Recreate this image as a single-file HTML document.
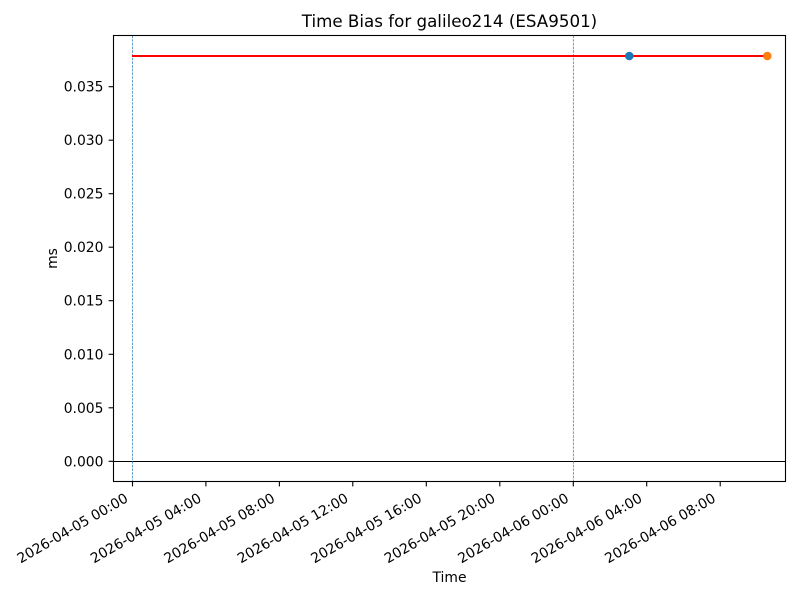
<!DOCTYPE html>
<html>
<head>
<meta charset="utf-8">
<style>
html,body{margin:0;padding:0;background:#fff;}
svg{display:block;}
text{font-family:"DejaVu Sans","Liberation Sans",sans-serif;fill:#000;}
</style>
</head>
<body>
<svg width="800" height="600" viewBox="0 0 800 600" xmlns="http://www.w3.org/2000/svg">
<rect x="0" y="0" width="800" height="600" fill="#fff"/>
<!-- zero line -->
<line x1="113.5" y1="461.5" x2="785.5" y2="461.5" stroke="#000" stroke-width="1"/>
<!-- vertical dashed lines -->
<line x1="132.4" y1="35.5" x2="132.4" y2="481.5" stroke="#1f77b4" stroke-width="0.7" stroke-dasharray="2.6,1.1"/>
<line x1="573.3" y1="35.5" x2="573.3" y2="481.5" stroke="#1f77b4" stroke-width="0.7" stroke-dasharray="2.6,1.1"/>
<!-- red line -->
<line x1="132" y1="56" x2="767.3" y2="56" stroke="#ff0000" stroke-width="2"/>
<!-- dots -->
<circle cx="629.3" cy="56" r="4.3" fill="#1f77b4"/>
<circle cx="767.3" cy="56" r="4.3" fill="#ff7f0e"/>
<!-- axes frame -->
<rect x="113.5" y="35.5" width="672" height="446" fill="none" stroke="#000" stroke-width="1.1"/>
<!-- y ticks -->
<g stroke="#000" stroke-width="1.1">
<line x1="108.6" y1="461.3" x2="113.5" y2="461.3"/>
<line x1="108.6" y1="407.8" x2="113.5" y2="407.8"/>
<line x1="108.6" y1="354.3" x2="113.5" y2="354.3"/>
<line x1="108.6" y1="300.7" x2="113.5" y2="300.7"/>
<line x1="108.6" y1="247.2" x2="113.5" y2="247.2"/>
<line x1="108.6" y1="193.7" x2="113.5" y2="193.7"/>
<line x1="108.6" y1="140.2" x2="113.5" y2="140.2"/>
<line x1="108.6" y1="86.7" x2="113.5" y2="86.7"/>
</g>
<g font-size="13.9" text-anchor="end">
<text x="103.5" y="466.3">0.000</text>
<text x="103.5" y="412.8">0.005</text>
<text x="103.5" y="359.3">0.010</text>
<text x="103.5" y="305.7">0.015</text>
<text x="103.5" y="252.2">0.020</text>
<text x="103.5" y="198.7">0.025</text>
<text x="103.5" y="145.2">0.030</text>
<text x="103.5" y="91.7">0.035</text>
</g>
<!-- x ticks -->
<g stroke="#000" stroke-width="1.1">
<line x1="132.5" y1="481.5" x2="132.5" y2="486.4"/>
<line x1="205.9" y1="481.5" x2="205.9" y2="486.4"/>
<line x1="279.4" y1="481.5" x2="279.4" y2="486.4"/>
<line x1="352.8" y1="481.5" x2="352.8" y2="486.4"/>
<line x1="426.3" y1="481.5" x2="426.3" y2="486.4"/>
<line x1="499.8" y1="481.5" x2="499.8" y2="486.4"/>
<line x1="573.3" y1="481.5" x2="573.3" y2="486.4"/>
<line x1="646.7" y1="481.5" x2="646.7" y2="486.4"/>
<line x1="720.2" y1="481.5" x2="720.2" y2="486.4"/>
</g>
<g font-size="13.9" text-anchor="end">
<text transform="translate(129,501) rotate(-30)">2026-04-05 00:00</text>
<text transform="translate(202.4,501) rotate(-30)">2026-04-05 04:00</text>
<text transform="translate(275.9,501) rotate(-30)">2026-04-05 08:00</text>
<text transform="translate(349.3,501) rotate(-30)">2026-04-05 12:00</text>
<text transform="translate(422.8,501) rotate(-30)">2026-04-05 16:00</text>
<text transform="translate(496.3,501) rotate(-30)">2026-04-05 20:00</text>
<text transform="translate(569.8,501) rotate(-30)">2026-04-06 00:00</text>
<text transform="translate(643.2,501) rotate(-30)">2026-04-06 04:00</text>
<text transform="translate(716.7,501) rotate(-30)">2026-04-06 08:00</text>
</g>
<!-- labels -->
<text x="449.5" y="582" font-size="13.9" text-anchor="middle">Time</text>
<text transform="translate(57,258.5) rotate(-90)" font-size="13.9" text-anchor="middle">ms</text>
<text x="449.5" y="27" font-size="16.7" text-anchor="middle">Time Bias for galileo214 (ESA9501)</text>
</svg>
</body>
</html>
